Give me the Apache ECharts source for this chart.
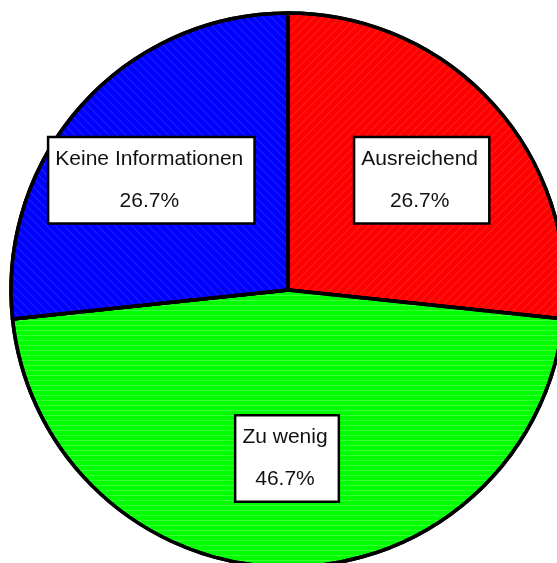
<!DOCTYPE html>
<html>
<head>
<meta charset="utf-8">
<script src="https://cdn.jsdelivr.net/npm/echarts@6/dist/echarts.min.js"></script>
<style>
  html, body { margin: 0; padding: 0; background: #fff; }
  #main { width: 557px; height: 563px; }
</style>
</head>
<body>
<div id="main"></div>
<script>
// data
var categories = ['Ausreichend', 'Zu wenig', 'Keine Informationen'];
var counts = [4, 7, 4];
var colors = ['#ff0000', '#00ff00', '#0000ff'];

var total = counts.reduce(function (a, b) { return a + b; }, 0);

// light streaks in the fills, like the original rendering
var hatch = [
    { symbol: 'rect', dashArrayX: [1, 0], dashArrayY: [1, 5], rotation: -Math.PI / 4, color: 'rgba(255,255,255,0.12)' },
    { symbol: 'rect', dashArrayX: [1, 0], dashArrayY: [1, 4], rotation: 0, color: 'rgba(255,255,255,0.22)' },
    { symbol: 'rect', dashArrayX: [1, 0], dashArrayY: [1, 5], rotation: Math.PI / 4, color: 'rgba(255,255,255,0.12)' }
];
// small nudges so each box sits where the original put it
var labelNudge = [[4, 7], [-1, -6], [-7, 7]];

var myChart = echarts.init(document.getElementById('main'));
var option = {
    animation: false,
    series: [
        {
            name: 'pie',
            type: 'pie',
            center: [288, 290],
            radius: 277,
            startAngle: 90,
            clockwise: true,
            silent: true,
            itemStyle: {
                borderColor: '#000',
                borderWidth: 3.5
            },
            label: { show: false },
            labelLine: { show: false },
            data: categories.map(function (name, i) {
                return { name: name, value: counts[i], itemStyle: { color: colors[i], decal: hatch[i] } };
            })
        },
        {
            // only carries the labels
            name: 'labels',
            type: 'pie',
            center: [288, 290],
            radius: [138, 205],
            startAngle: 90,
            clockwise: true,
            silent: true,
            itemStyle: { color: 'rgba(0,0,0,0)', borderWidth: 0 },
            label: {
                show: true,
                position: 'inside',
                formatter: function (p) {
                    return p.name + '\n' + (p.value / total * 100).toFixed(1) + '%';
                },
                fontFamily: 'Liberation Sans, Arial, sans-serif',
                fontSize: 21,
                lineHeight: 42,
                color: '#111',
                align: 'center',
                backgroundColor: '#fff',
                borderColor: '#000',
                borderWidth: 2.5,
                padding: [0, 10, 0, 6]
            },
            labelLine: { show: false },
            data: categories.map(function (name, i) {
                return { name: name, value: counts[i], label: { offset: labelNudge[i] } };
            })
        }
    ]
};
myChart.setOption(option);
window.onresize = myChart.resize;
</script>
</body>
</html>
